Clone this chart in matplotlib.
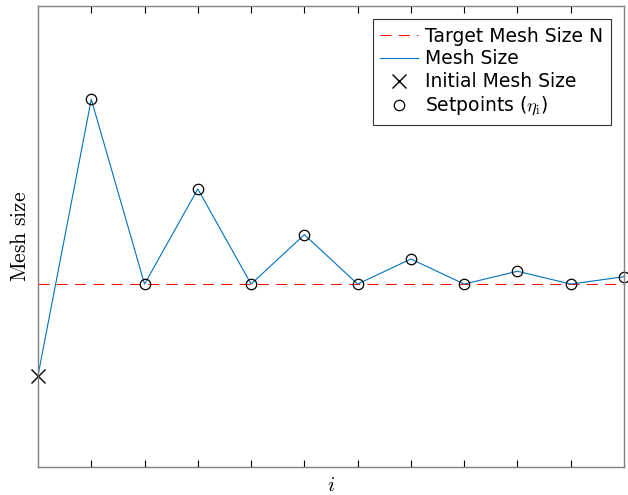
import numpy as np
import matplotlib
matplotlib.use('Agg')
import matplotlib.pyplot as plt

plt.rcParams['mathtext.fontset'] = 'cm'

# Data (target normalised to 1)
iterations = [0, 1, 2, 3, 4, 5, 6, 7, 8, 9, 10, 11]
mesh_size = [0.50, 2.01, 1.0, 1.52, 1.0, 1.27, 1.0, 1.137, 1.0, 1.07, 1.0, 1.04]
target_N = 1.0
x_limits = [0, 11]
y_limits = [0, 2.52]

fig = plt.figure(figsize=(6.28, 4.95), dpi=100)
ax = fig.add_axes([38 / 628, 1 - 467 / 495, (624 - 38) / 628, (467 - 6) / 495])

ax.plot(x_limits, [target_N, target_N], color='red', linestyle=(0, (11.3, 7.5)),
        linewidth=0.7, label='Target Mesh Size N')
ax.plot(iterations, mesh_size, color='#0072BD', linewidth=0.8, label='Mesh Size')
ax.plot(iterations[0], mesh_size[0], 'x', color='black', markersize=10,
        markeredgewidth=1.0, linestyle='none', label='Initial Mesh Size', clip_on=False)
ax.plot(iterations[1:], mesh_size[1:], 'o', color='black', markerfacecolor='none',
        markersize=7.5, markeredgewidth=0.9, linestyle='none',
        label=r'Setpoints ($\eta_\mathrm{i}$)', clip_on=False)

ax.set_xlim(x_limits)
ax.set_ylim(y_limits)
ax.set_xticks(np.arange(1, 11))
ax.set_xticklabels([])
ax.set_yticks([])
ax.tick_params(axis='x', direction='in', length=5, width=0.8, top=True, color='black')
for s in ax.spines.values():
    s.set_color('#808080')
    s.set_linewidth(1.0)

ax.set_xlabel(r'$i$', fontsize=15, labelpad=2)
ax.set_ylabel(r'$\mathrm{Mesh\ size}$', fontsize=15.5, labelpad=6)

leg = ax.legend(loc='upper right', fontsize=13.5, frameon=True, fancybox=False,
                edgecolor='black', borderpad=0.4, labelspacing=0.2,
                handlelength=2.0, handletextpad=0.4, borderaxespad=0.7)
leg.get_frame().set_linewidth(0.8)

fig.savefig('out.png', dpi=100)
